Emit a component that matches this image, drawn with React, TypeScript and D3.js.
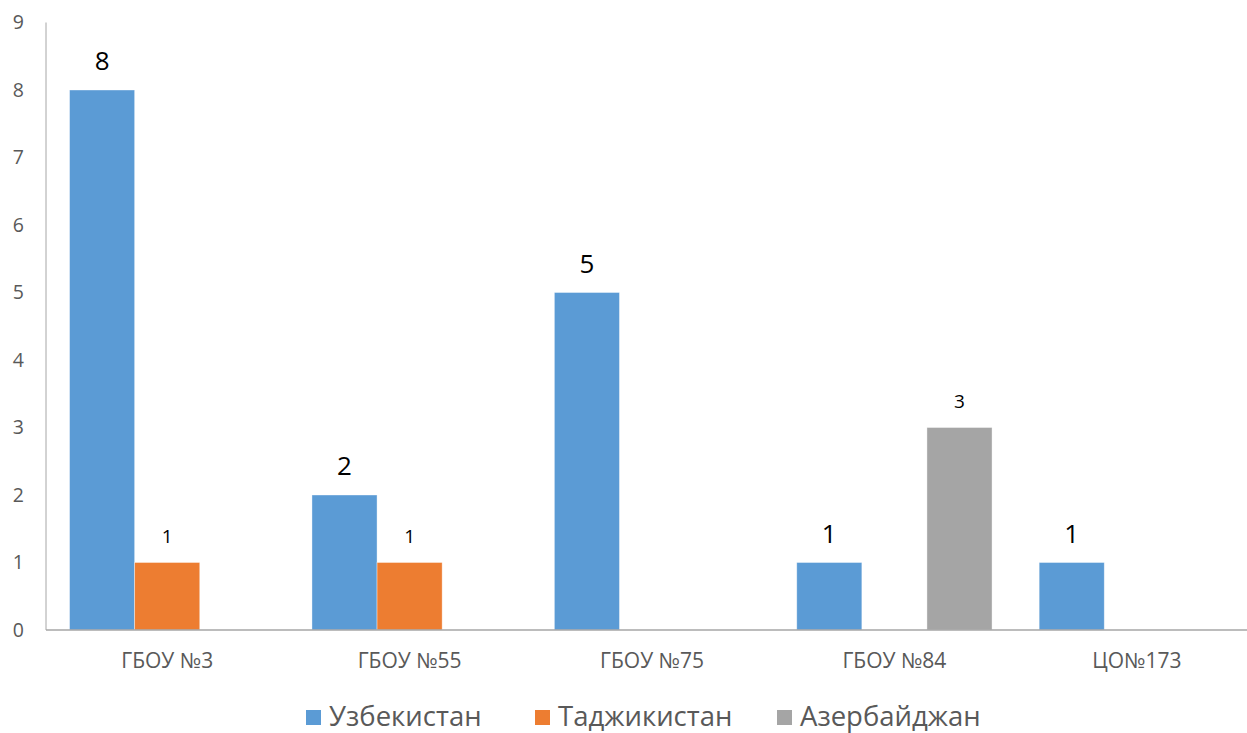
import React from "react";
import * as d3 from "d3";

const categories = ["ГБОУ №3", "ГБОУ №55", "ГБОУ №75", "ГБОУ №84", "ЦО№173"];
const seriesNames = ["Узбекистан", "Таджикистан", "Азербайджан"];
const uzbekistan = [8, 2, 5, 1, 1];
const tajikistan = [1, 1, 0, 0, 0];
const azerbaijan = [0, 0, 0, 3, 0];
const colors = ["#5b9bd5", "#ed7d31", "#a5a5a5"];
const labelSizes = [26, 19, 19];
const yTicks = [0, 1, 2, 3, 4, 5, 6, 7, 8, 9];

const W = 1247;
const H = 733;
const FONT = "'Open Sans', 'Noto Sans', sans-serif";

export default function App() {
  const values = [uzbekistan, tajikistan, azerbaijan];
  const x0 = d3.scaleBand<string>().domain(categories).range([46, 1258]).padding(0);
  const x1 = d3
    .scaleBand<string>()
    .domain(seriesNames)
    .range([0, x0.bandwidth()])
    .paddingInner(0)
    .paddingOuter(0.362);
  const y = d3.scaleLinear().domain([0, 9]).range([630, 22.5]);

  return (
    <svg
      width={W}
      height={H}
      style={{ position: "absolute", left: 0, top: 0, background: "#fff" }}
      fontFamily={FONT}
    >
      {yTicks.map((t) => (
        <text
          key={t}
          x={24}
          y={y(t)}
          dy="0.35em"
          textAnchor="end"
          fontSize={19.5}
          fill="#595959"
        >
          {t}
        </text>
      ))}
      {categories.map((c, ci) => (
        <g key={c} transform={`translate(${x0(c)},0)`}>
          {seriesNames.map((s, si) => {
            const v = values[si][ci];
            if (!v) return null;
            return (
              <g key={s}>
                <rect
                  x={x1(s)}
                  y={y(v)}
                  width={x1.bandwidth()}
                  height={y(0) - y(v)}
                  fill={colors[si]}
                  stroke="#ffffff"
                  strokeOpacity={0.5}
                  strokeWidth={0.75}
                />
                <text
                  x={(x1(s) as number) + x1.bandwidth() / 2}
                  y={y(v) - 20}
                  textAnchor="middle"
                  fontSize={labelSizes[si]}
                  fill="#000"
                >
                  {v}
                </text>
              </g>
            );
          })}
        </g>
      ))}
      <line x1={46} x2={46} y1={22.5} y2={630} stroke="#a6a6a6" strokeWidth={1} />
      <line x1={46} x2={W} y1={630} y2={630} stroke="#a6a6a6" strokeWidth={1.3} />
      {categories.map((c) => (
        <text
          key={c}
          x={(x0(c) as number) + x0.bandwidth() / 2}
          y={661}
          dy="0.35em"
          textAnchor="middle"
          fontSize={21}
          fill="#595959"
        >
          {c}
        </text>
      ))}
      {seriesNames.map((s, i) => {
        const lx = [306, 535, 777][i];
        return (
          <g key={s}>
            <rect x={lx} y={710} width={15} height={15} fill={colors[i]} />
            <text x={lx + 23} y={716} dy="0.35em" fontSize={27.5} fill="#595959">
              {s}
            </text>
          </g>
        );
      })}
    </svg>
  );
}
